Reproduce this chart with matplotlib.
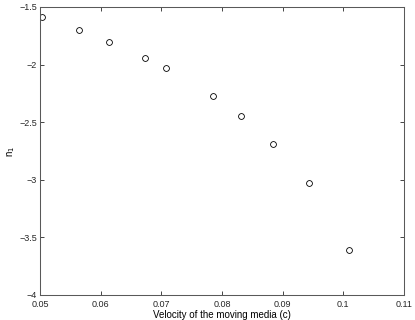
import matplotlib
matplotlib.use("Agg")
import matplotlib.pyplot as plt

velocity = [0.0504, 0.0565, 0.0614, 0.0673, 0.0707, 0.0785, 0.0832, 0.0884, 0.0943, 0.1010]
n1 = [-1.59, -1.70, -1.80, -1.94, -2.03, -2.27, -2.45, -2.69, -3.03, -3.61]
xticks = [0.05, 0.06, 0.07, 0.08, 0.09, 0.1, 0.11]
xticklabels = ["0.05", "0.06", "0.07", "0.08", "0.09", "0.1", "0.11"]
yticks = [-4, -3.5, -3, -2.5, -2, -1.5]
yticklabels = ["\u22124", "\u22123.5", "\u22123", "\u22122.5", "\u22122", "\u22121.5"]

plt.rcParams['font.family'] = ['Liberation Sans', 'DejaVu Sans']
fig = plt.figure(figsize=(4.15, 3.2), dpi=100)
ax = fig.add_axes([40/415, 25/320, 364/415, 288/320])
ax.plot(velocity, n1, linestyle='none', marker='o', markersize=4.2,
        markerfacecolor='none', markeredgecolor='black', markeredgewidth=0.6)
ax.set_xlim(0.05, 0.11)
ax.set_ylim(-4, -1.5)
ax.set_xticks(xticks)
ax.set_xticklabels(xticklabels)
ax.set_yticks(yticks)
ax.set_yticklabels(yticklabels)
ax.tick_params(direction='in', length=3, width=0.6, labelsize=6.5, colors='0.15',
               top=True, right=True)
ax.tick_params(axis='x', pad=3.5)
ax.tick_params(axis='y', pad=2)
for s in ax.spines.values():
    s.set_linewidth(0.75)
    s.set_color('0.35')
ax.set_xlabel("Velocity of the moving media (c)", fontsize=7, labelpad=0.5)
ax.set_ylabel("n$_1$", fontsize=7, labelpad=2)
fig.savefig("out.png", dpi=100)
